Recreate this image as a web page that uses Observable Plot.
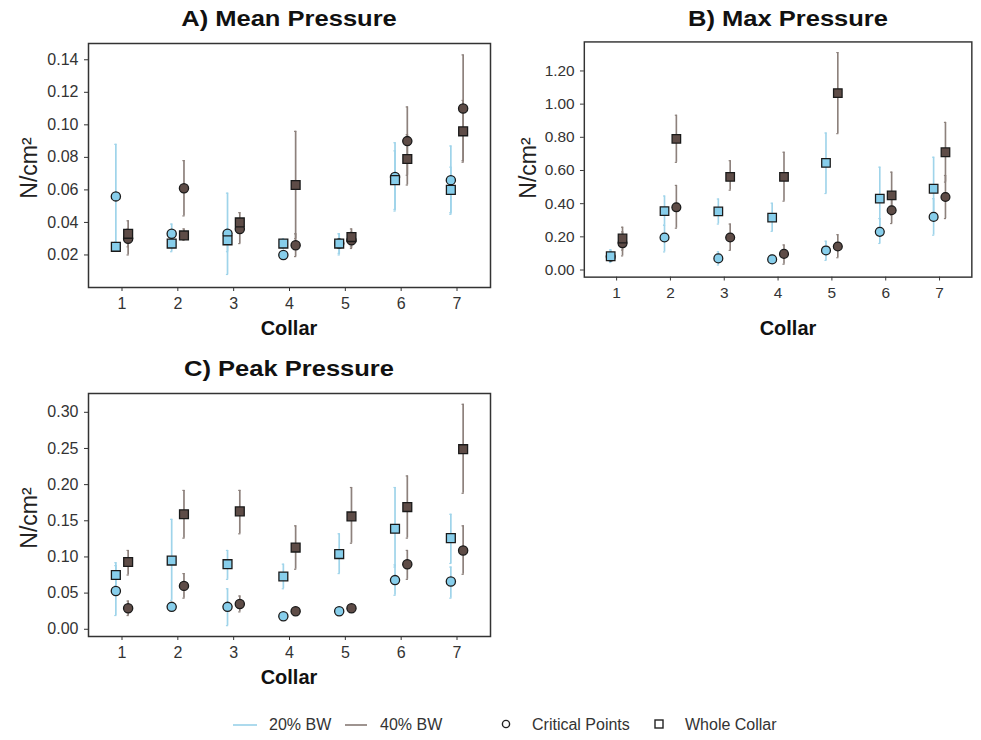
<!DOCTYPE html>
<html>
<head>
<meta charset="utf-8">
<script src="https://cdn.jsdelivr.net/npm/d3@7"></script>
<script src="https://cdn.jsdelivr.net/npm/@observablehq/plot@0.6"></script>
<style>
  html, body { margin: 0; padding: 0; background: #fff; }
  #fig { position: relative; width: 981px; height: 740px; overflow: hidden; font-family: "Liberation Sans", Arial, sans-serif; color: #222; }
  .panel { position: absolute; }
  .title { position: absolute; font-weight: bold; font-size: 22px; transform: translate(-50%, -50%) scaleX(1.16); white-space: nowrap; color: #111; }
  .xlab { position: absolute; font-weight: bold; font-size: 20px; transform: translate(-50%, -50%); white-space: nowrap; color: #111; }
  .ylab { position: absolute; font-size: 23px; transform: translate(-50%, -50%) rotate(-90deg); white-space: nowrap; color: #222; }
  .leg { position: absolute; font-size: 16px; color: #333; white-space: nowrap; transform: translateY(-50%); }
  .legsw { position: absolute; transform: translateY(-50%); }
</style>
</head>
<body>
<div id="fig"></div>
<script>
// ---------- data ----------
const collars = [1, 2, 3, 4, 5, 6, 7];

// A) Mean Pressure
const A_cp20 = [0.056, 0.033, 0.033, 0.020, 0.027, 0.068, 0.066];
const A_cp20_lo = [0.024, 0.027, 0.008, 0.018, 0.021, 0.048, 0.046];
const A_cp20_hi = [0.088, 0.039, 0.058, 0.022, 0.033, 0.089, 0.087];
const A_wc20 = [0.025, 0.027, 0.029, 0.027, 0.027, 0.066, 0.060];
const A_wc20_lo = [0.023, 0.022, 0.022, 0.024, 0.020, 0.047, 0.045];
const A_wc20_hi = [0.028, 0.032, 0.036, 0.030, 0.033, 0.084, 0.074];
const A_cp40 = [0.030, 0.061, 0.036, 0.026, 0.029, 0.090, 0.110];
const A_cp40_lo = [0.020, 0.044, 0.027, 0.019, 0.024, 0.069, 0.078];
const A_cp40_hi = [0.036, 0.078, 0.042, 0.033, 0.034, 0.111, 0.143];
const A_wc40 = [0.033, 0.032, 0.040, 0.063, 0.031, 0.079, 0.096];
const A_wc40_lo = [0.025, 0.029, 0.034, 0.030, 0.025, 0.063, 0.077];
const A_wc40_hi = [0.041, 0.036, 0.046, 0.096, 0.036, 0.094, 0.115];

// B) Max Pressure
const B_cp20 = [0.080, 0.196, 0.070, 0.064, 0.118, 0.23, 0.32];
const B_cp20_lo = [0.045, 0.109, 0.030, 0.040, 0.058, 0.16, 0.21];
const B_cp20_hi = [0.115, 0.27, 0.110, 0.090, 0.174, 0.31, 0.43];
const B_wc20 = [0.083, 0.355, 0.353, 0.316, 0.646, 0.43, 0.49];
const B_wc20_lo = [0.050, 0.27, 0.277, 0.233, 0.461, 0.24, 0.30];
const B_wc20_hi = [0.122, 0.446, 0.428, 0.403, 0.826, 0.62, 0.68];
const B_cp40 = [0.161, 0.378, 0.196, 0.097, 0.142, 0.36, 0.44];
const B_cp40_lo = [0.085, 0.252, 0.118, 0.035, 0.074, 0.28, 0.31];
const B_cp40_hi = [0.230, 0.51, 0.277, 0.151, 0.213, 0.44, 0.57];
const B_wc40 = [0.19, 0.791, 0.562, 0.562, 1.066, 0.45, 0.71];
const B_wc40_lo = [0.12, 0.649, 0.481, 0.415, 0.822, 0.33, 0.53];
const B_wc40_hi = [0.258, 0.933, 0.659, 0.71, 1.311, 0.59, 0.89];

// C) Peak Pressure
const C_cp20 = [0.053, 0.031, 0.031, 0.018, 0.025, 0.068, 0.066];
const C_cp20_lo = [0.019, 0.027, 0.005, 0.015, 0.021, 0.047, 0.043];
const C_cp20_hi = [0.088, 0.036, 0.056, 0.021, 0.030, 0.089, 0.086];
const C_wc20 = [0.075, 0.095, 0.090, 0.073, 0.104, 0.139, 0.126];
const C_wc20_lo = [0.060, 0.040, 0.069, 0.056, 0.077, 0.086, 0.091];
const C_wc20_hi = [0.092, 0.152, 0.109, 0.090, 0.132, 0.196, 0.159];
const C_cp40 = [0.029, 0.060, 0.035, 0.025, 0.029, 0.090, 0.109];
const C_cp40_lo = [0.019, 0.043, 0.024, 0.020, 0.025, 0.069, 0.076];
const C_cp40_hi = [0.039, 0.077, 0.046, 0.030, 0.032, 0.109, 0.143];
const C_wc40 = [0.093, 0.159, 0.163, 0.113, 0.156, 0.169, 0.249];
const C_wc40_lo = [0.075, 0.126, 0.132, 0.083, 0.119, 0.126, 0.188];
const C_wc40_hi = [0.109, 0.192, 0.192, 0.143, 0.196, 0.212, 0.311];

const yTicksA = [0.02, 0.04, 0.06, 0.08, 0.10, 0.12, 0.14];
const yTicksB = [0.0, 0.2, 0.4, 0.6, 0.8, 1.0, 1.2];
const yTicksC = [0.0, 0.05, 0.10, 0.15, 0.20, 0.25, 0.30];

const titles = ["A) Mean Pressure", "B) Max Pressure", "C) Peak Pressure"];
const bwLabels = ["20% BW", "40% BW"];
const typeLabels = ["Critical Points", "Whole Collar"];

// ---------- styling ----------
const LINE20 = "#9fd4ea", LINE40 = "#8d817c";
const FILL20 = "#87ceeb", FILL40 = "#5e4c47";
const DODGE = 0.11;

function rows(series) {
  const out = [];
  for (const s of series) {
    collars.forEach((c, i) => {
      out.push({
        collar: c,
        x: c + (s.bw === 20 ? -DODGE : DODGE),
        bw: s.bw, type: s.type,
        mean: s.mean[i], lo: s.lo[i], hi: s.hi[i],
        line: s.bw === 20 ? LINE20 : LINE40,
        fill: s.bw === 20 ? FILL20 : FILL40
      });
    });
  }
  return out;
}

function panel(data, yDomain, yTicks, opts) {
  const circles = data.filter(d => d.type === "cp");
  const squares = data.filter(d => d.type === "wc");
  return Plot.plot({
    width: 500, height: 340,
    marginLeft: 88, marginRight: 10, marginTop: opts.mt, marginBottom: opts.mb,
    style: { fontFamily: '"Liberation Sans", Arial, sans-serif', fontSize: "16px", color: "#333", background: "transparent", overflow: "visible" },
    color: { type: "identity" },
    x: { domain: [0.4, 7.6], label: null },
    y: { domain: yDomain, label: null },
    marks: [
      Plot.axisX({ ticks: collars, tickFormat: d => String(d), tickSize: 4, tickPadding: 6, fontSize: 16, label: null, stroke: "#333", fill: "#333" }),
      Plot.axisY({ ticks: yTicks, tickFormat: d3.format(".2f"), tickSize: 4, tickPadding: 6, fontSize: 16, label: null, stroke: "#333", fill: "#333" }),
      Plot.ruleX(data, { x: "x", y1: "lo", y2: "hi", stroke: "line", strokeWidth: 1.7 }),
      Plot.ruleY(data, { y: "hi", x1: d => d.x - 0.02, x2: d => d.x + 0.02, stroke: "line", strokeWidth: 1.2 }),
      Plot.ruleY(data, { y: "lo", x1: d => d.x - 0.02, x2: d => d.x + 0.02, stroke: "line", strokeWidth: 1.2 }),
      Plot.dot(circles, { x: "x", y: "mean", symbol: "circle", r: 4.6, fill: "fill", stroke: "#1a1a1a", strokeWidth: 1.3 }),
      Plot.dot(squares, { x: "x", y: "mean", symbol: "square", r: 5, fill: "fill", stroke: "#1a1a1a", strokeWidth: 1.3 }),
      Plot.frame({ stroke: "#333", strokeWidth: 1.5 })
    ]
  });
}

const dataA = rows([
  { bw: 20, type: "cp", mean: A_cp20, lo: A_cp20_lo, hi: A_cp20_hi },
  { bw: 20, type: "wc", mean: A_wc20, lo: A_wc20_lo, hi: A_wc20_hi },
  { bw: 40, type: "cp", mean: A_cp40, lo: A_cp40_lo, hi: A_cp40_hi },
  { bw: 40, type: "wc", mean: A_wc40, lo: A_wc40_lo, hi: A_wc40_hi }
]);
const dataB = rows([
  { bw: 20, type: "cp", mean: B_cp20, lo: B_cp20_lo, hi: B_cp20_hi },
  { bw: 20, type: "wc", mean: B_wc20, lo: B_wc20_lo, hi: B_wc20_hi },
  { bw: 40, type: "cp", mean: B_cp40, lo: B_cp40_lo, hi: B_cp40_hi },
  { bw: 40, type: "wc", mean: B_wc40, lo: B_wc40_lo, hi: B_wc40_hi }
]);
const dataC = rows([
  { bw: 20, type: "cp", mean: C_cp20, lo: C_cp20_lo, hi: C_cp20_hi },
  { bw: 20, type: "wc", mean: C_wc20, lo: C_wc20_lo, hi: C_wc20_hi },
  { bw: 40, type: "cp", mean: C_cp40, lo: C_cp40_lo, hi: C_cp40_hi },
  { bw: 40, type: "wc", mean: C_wc40, lo: C_wc40_lo, hi: C_wc40_hi }
]);

const fig = document.getElementById("fig");
function place(node, left, top) {
  const w = document.createElement("div");
  w.className = "panel";
  w.style.left = left + "px"; w.style.top = top + "px";
  w.appendChild(node);
  fig.appendChild(w);
}
place(panel(dataA, [0, 0.15], yTicksA, { mt: 43, mb: 53 }), 0, 0);
place(panel(dataB, [-0.043, 1.375], yTicksB, { mt: 43, mb: 53 }), 499, 0);
place(panel(dataC, [-0.01, 0.326], yTicksC, { mt: 43, mb: 54 }), 0, 350);

function addText(cls, text, x, y) {
  const d = document.createElement("div");
  d.className = cls;
  d.textContent = text;
  d.style.left = x + "px"; d.style.top = y + "px";
  fig.appendChild(d);
}
addText("title", titles[0], 289, 19);
addText("title", titles[1], 788, 19);
addText("title", titles[2], 289, 369);
addText("xlab", "Collar", 289, 328);
addText("xlab", "Collar", 788, 328);
addText("xlab", "Collar", 289, 677);
addText("ylab", "N/cm²", 29, 168);
addText("ylab", "N/cm²", 528, 168);
addText("ylab", "N/cm²", 29, 518);

// legend
const LY = 725;
function swatch(svg, x) {
  const d = document.createElement("div");
  d.className = "legsw";
  d.style.left = x + "px"; d.style.top = LY + "px";
  d.innerHTML = svg;
  fig.appendChild(d);
}
swatch(`<svg width="24" height="10"><line x1="0" y1="5" x2="24" y2="5" stroke="${LINE20}" stroke-width="1.7"/></svg>`, 233);
addText("leg", bwLabels[0], 269, LY);
swatch(`<svg width="22" height="10"><line x1="0" y1="5" x2="22" y2="5" stroke="${LINE40}" stroke-width="1.7"/></svg>`, 345);
addText("leg", bwLabels[1], 380, LY);
swatch(`<svg width="12" height="12"><circle cx="6" cy="6" r="3.6" fill="none" stroke="#222" stroke-width="1.4"/></svg>`, 500);
addText("leg", typeLabels[0], 532, LY);
swatch(`<svg width="12" height="12"><rect x="2" y="2" width="8" height="8" fill="none" stroke="#222" stroke-width="1.4"/></svg>`, 653);
addText("leg", typeLabels[1], 685, LY);
</script>
</body>
</html>
